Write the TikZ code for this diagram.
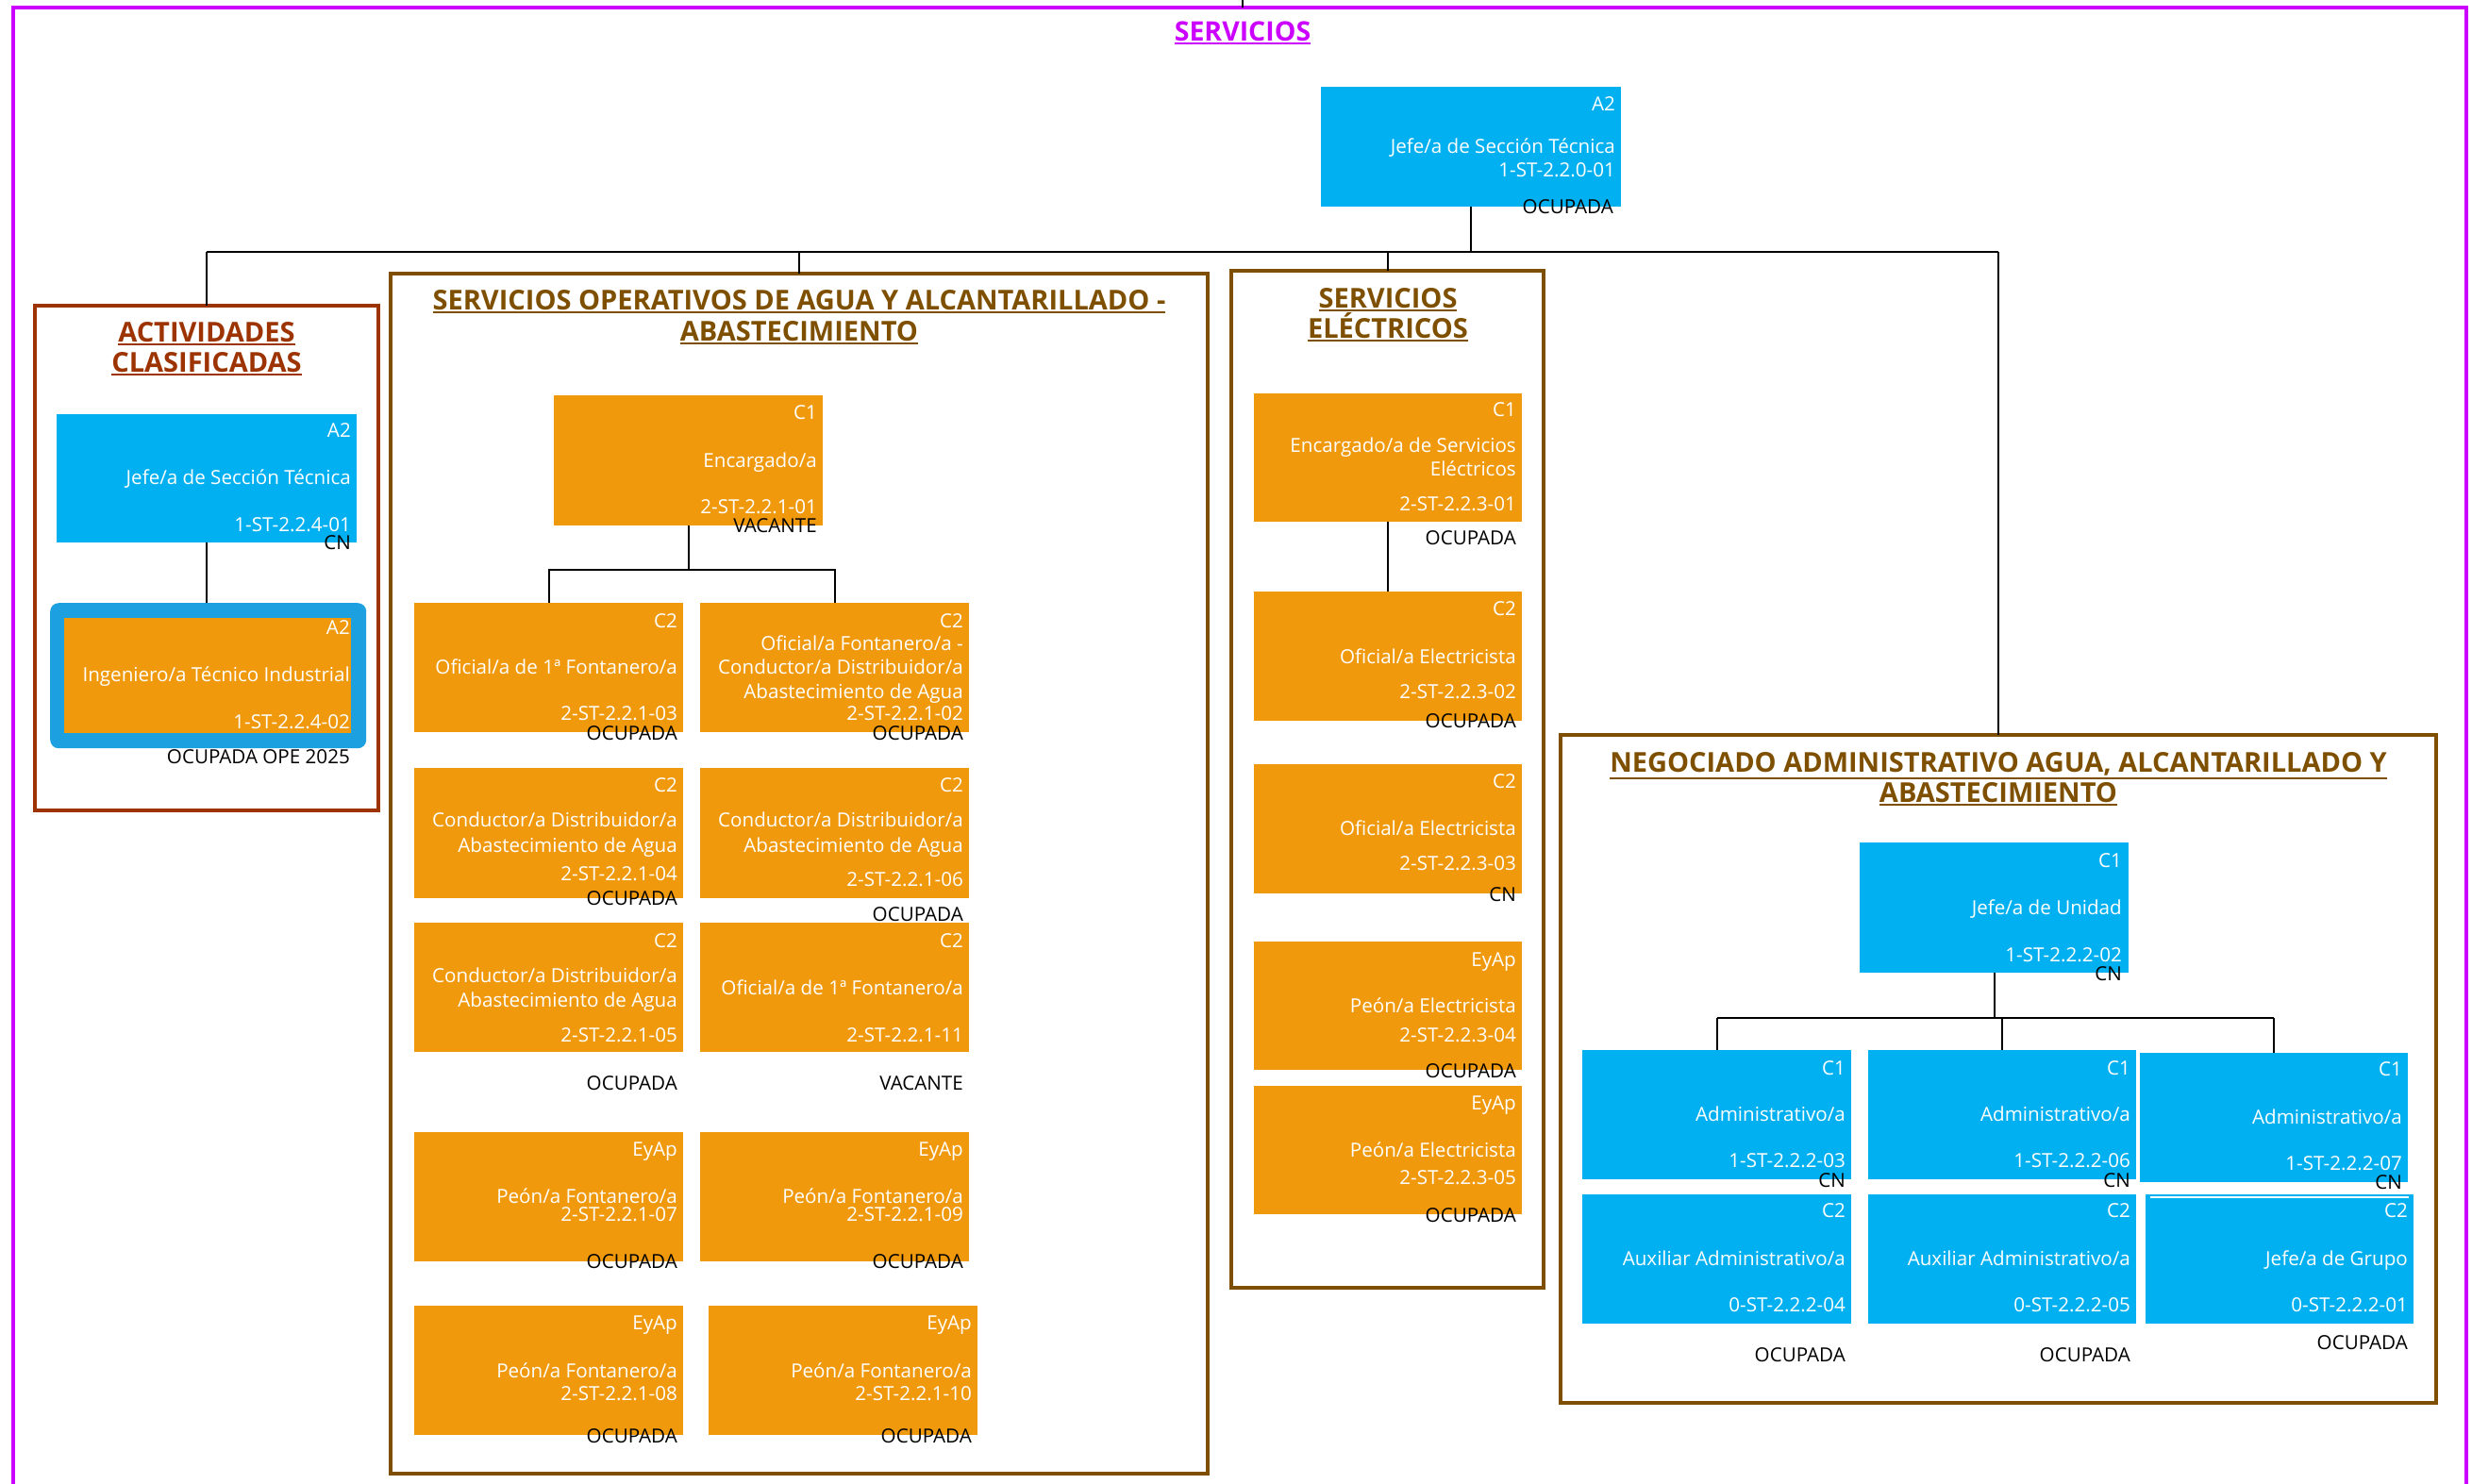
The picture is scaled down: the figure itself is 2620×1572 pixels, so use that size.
\documentclass[tikz,border=0pt]{standalone}
\usepackage{fontspec}
\setmainfont{Open Sans}
\definecolor{cblue}{HTML}{00B0F0}
\definecolor{cblue2}{HTML}{1CA0E0}
\definecolor{corange}{HTML}{F0990D}
\definecolor{cbrown}{HTML}{7F4F00}
\definecolor{cred}{HTML}{9C3300}
\definecolor{cpurple}{HTML}{CC00FF}
\newcommand\myul[1]{\vtop{\hbox{#1}\kern2pt\hrule height 2.2pt}}
\newcommand\bx[6]{\node[#6, minimum width={#4-#2}, minimum height={#5-#3}, anchor=north west, inner sep=0pt, outer sep=0pt] (#1) at (#2,#3) {};}
\newcommand\tx[5]{\node[#1] (#2) at (#3,#4+7) {#5};}
\tikzset{
  conn/.style={draw=black, line width=2pt},
  grp/.style={draw=#1, line width=4pt, rectangle},
  blu/.style={fill=cblue, draw=none, rectangle},
  org/.style={fill=corange, draw=none, rectangle},
  wt/.style={text=white, font=\fontsize{20.6}{24}\selectfont, anchor=base east, inner sep=0pt},
  bk/.style={text=black, font=\fontsize{20.6}{24}\selectfont, anchor=base east, inner sep=0pt},
  ttl/.style={text=#1, font=\fontsize{29}{32}\selectfont\bfseries, anchor=base, inner sep=0pt},
}
\begin{document}
\begin{tikzpicture}[x=1pt,y=-1pt]
\useasboundingbox (0,0) rectangle (2620,1572);
% outer frame
\draw[cpurple, line width=4pt] (14,1580) -- (14,8) -- (2614,8) -- (2614,1580);
\coordinate (topin) at (1317,0);
\coordinate (topfr) at (1317,8);
\draw[conn] (topin) -- (topfr);
\node[ttl=cpurple, font=\fontsize{28.5}{32}\selectfont\bfseries] (servt) at (1317,33+10) {\myul{SERVICIOS}};

% top box
\bx{top}{1400}{92}{1718}{219}{blu}
\tx{wt}{topg}{1712}{110}{A2}
\tx{wt}{topt}{1712}{155}{Jefe/a de Sección Técnica}
\tx{wt}{topc}{1712}{180}{1-ST-2.2.0-01}
\tx{bk}{tops}{1710}{219}{OCUPADA}

% groups
\bx{g1}{37}{324}{401}{859}{grp=cred}
\bx{g2}{414}{290}{1280}{1562}{grp=cbrown}
\bx{g3}{1305}{287}{1636}{1365}{grp=cbrown}
\bx{g4}{1654}{779}{2582}{1487}{grp=cbrown}

\coordinate (bus) at (0,267);
\draw[conn] (top.south) -- (top.south |- bus);
\draw[conn] (g1.north |- bus) -- (g4.north |- bus);
\foreach \g in {g1,g2,g3,g4} \draw[conn] (\g.north |- bus) -- (\g.north);

% group titles
\node[ttl=cred] (g1ta) at (219,352+10) {\myul{ACTIVIDADES}};
\node[ttl=cred] (g1tb) at (219,384+10) {\myul{CLASIFICADAS}};
\node[ttl=cbrown] (g2ta) at (847,318+10) {\myul{SERVICIOS OPERATIVOS DE AGUA Y ALCANTARILLADO -}};
\node[ttl=cbrown] (g2tb) at (847,351+10) {\myul{ABASTECIMIENTO}};
\node[ttl=cbrown] (g3ta) at (1471,316+10) {\myul{SERVICIOS}};
\node[ttl=cbrown] (g3tb) at (1471,348+10) {\myul{ELÉCTRICOS}};
\node[ttl=cbrown] (g4ta) at (2118,808+10) {\myul{NEGOCIADO ADMINISTRATIVO AGUA, ALCANTARILLADO Y}};
\node[ttl=cbrown] (g4tb) at (2118,840+10) {\myul{ABASTECIMIENTO}};

% ---- ACTIVIDADES CLASIFICADAS
\bx{a1}{60}{439}{378}{575}{blu}
\tx{wt}{a1g}{372}{456}{A2}
\tx{wt}{a1t}{372}{506}{Jefe/a de Sección Técnica}
\tx{wt}{a1c}{372}{556}{1-ST-2.2.4-01}
\tx{bk}{a1s}{372}{575}{CN}
\node[fill=cblue2, rounded corners=9pt, minimum width=335, minimum height=154, anchor=north west, inner sep=0pt] (a2o) at (53,639) {};
\bx{a2}{68}{655}{372}{777}{org}
\tx{wt}{a2g}{371}{665}{A2}
\tx{wt}{a2t}{371}{715}{Ingeniero/a Técnico Industrial}
\tx{wt}{a2c}{371}{765}{1-ST-2.2.4-02}
\tx{bk}{a2s}{371}{802}{OCUPADA OPE 2025}
\draw[conn] (a1.south) -- (a1.south |- a2o.north);

% ---- SERVICIOS OPERATIVOS
\bx{e1}{587}{419}{872}{557}{org}
\tx{wt}{e1g}{866}{437}{C1}
\tx{wt}{e1t}{866}{488}{Encargado/a}
\tx{wt}{e1c}{866}{537}{2-ST-2.2.1-01}
\tx{bk}{e1s}{866}{557}{VACANTE}

\bx{o03}{439}{639}{724}{776}{org}
\tx{wt}{o03g}{718}{658}{C2}
\tx{wt}{o03t}{718}{707}{Oficial/a de 1ª Fontanero/a}
\tx{wt}{o03c}{718}{756}{2-ST-2.2.1-03}
\tx{bk}{o03s}{718}{777}{OCUPADA}

\bx{o02}{742}{639}{1027}{776}{org}
\tx{wt}{o02g}{1021}{658}{C2}
\tx{wt}{o02t}{1021}{682}{Oficial/a Fontanero/a -}
\tx{wt}{o02u}{1021}{707}{Conductor/a Distribuidor/a}
\tx{wt}{o02v}{1021}{733}{Abastecimiento de Agua}
\tx{wt}{o02c}{1021}{756}{2-ST-2.2.1-02}
\tx{bk}{o02s}{1021}{777}{OCUPADA}

\coordinate (bus2) at (0,604);
\draw[conn] (e1.south) -- (e1.south |- bus2);
\draw[conn] (o03.north) -- (o03.north |- bus2) -- (o02.north |- bus2) -- (o02.north);

\bx{o04}{439}{814}{724}{952}{org}
\tx{wt}{o04g}{718}{832}{C2}
\tx{wt}{o04t}{718}{869}{Conductor/a Distribuidor/a}
\tx{wt}{o04u}{718}{896}{Abastecimiento de Agua}
\tx{wt}{o04c}{718}{926}{2-ST-2.2.1-04}
\tx{bk}{o04s}{718}{952}{OCUPADA}

\bx{o06}{742}{814}{1027}{952}{org}
\tx{wt}{o06g}{1021}{832}{C2}
\tx{wt}{o06t}{1021}{869}{Conductor/a Distribuidor/a}
\tx{wt}{o06u}{1021}{896}{Abastecimiento de Agua}
\tx{wt}{o06c}{1021}{932}{2-ST-2.2.1-06}
\tx{bk}{o06s}{1021}{969}{OCUPADA}

\bx{o05}{439}{978}{724}{1115}{org}
\tx{wt}{o05g}{718}{997}{C2}
\tx{wt}{o05t}{718}{1034}{Conductor/a Distribuidor/a}
\tx{wt}{o05u}{718}{1060}{Abastecimiento de Agua}
\tx{wt}{o05c}{718}{1097}{2-ST-2.2.1-05}
\tx{bk}{o05s}{718}{1148}{OCUPADA}

\bx{o11}{742}{978}{1027}{1115}{org}
\tx{wt}{o11g}{1021}{997}{C2}
\tx{wt}{o11t}{1021}{1047}{Oficial/a de 1ª Fontanero/a}
\tx{wt}{o11c}{1021}{1097}{2-ST-2.2.1-11}
\tx{bk}{o11s}{1021}{1148}{VACANTE}

\bx{o07}{439}{1200}{724}{1337}{org}
\tx{wt}{o07g}{718}{1218}{EyAp}
\tx{wt}{o07t}{718}{1268}{Peón/a Fontanero/a}
\tx{wt}{o07c}{718}{1287}{2-ST-2.2.1-07}
\tx{bk}{o07s}{718}{1337}{OCUPADA}

\bx{o09}{742}{1200}{1027}{1337}{org}
\tx{wt}{o09g}{1021}{1218}{EyAp}
\tx{wt}{o09t}{1021}{1268}{Peón/a Fontanero/a}
\tx{wt}{o09c}{1021}{1287}{2-ST-2.2.1-09}
\tx{bk}{o09s}{1021}{1337}{OCUPADA}

\bx{o08}{439}{1384}{724}{1521}{org}
\tx{wt}{o08g}{718}{1402}{EyAp}
\tx{wt}{o08t}{718}{1453}{Peón/a Fontanero/a}
\tx{wt}{o08c}{718}{1477}{2-ST-2.2.1-08}
\tx{bk}{o08s}{718}{1522}{OCUPADA}

\bx{o10}{751}{1384}{1036}{1521}{org}
\tx{wt}{o10g}{1030}{1402}{EyAp}
\tx{wt}{o10t}{1030}{1453}{Peón/a Fontanero/a}
\tx{wt}{o10c}{1030}{1477}{2-ST-2.2.1-10}
\tx{bk}{o10s}{1030}{1522}{OCUPADA}

% ---- SERVICIOS ELECTRICOS
\bx{s01}{1329}{417}{1613}{553}{org}
\tx{wt}{s01g}{1607}{434}{C1}
\tx{wt}{s01t}{1607}{472}{Encargado/a de Servicios}
\tx{wt}{s01u}{1607}{497}{Eléctricos}
\tx{wt}{s01c}{1607}{534}{2-ST-2.2.3-01}
\tx{bk}{s01s}{1607}{570}{OCUPADA}

\bx{s02}{1329}{627}{1613}{764}{org}
\tx{wt}{s02g}{1607}{645}{C2}
\tx{wt}{s02t}{1607}{696}{Oficial/a Electricista}
\tx{wt}{s02c}{1607}{733}{2-ST-2.2.3-02}
\tx{bk}{s02s}{1607}{764}{OCUPADA}
\draw[conn] (s01.south) -- (s02.north);

\bx{s03}{1329}{810}{1613}{947}{org}
\tx{wt}{s03g}{1607}{828}{C2}
\tx{wt}{s03t}{1607}{878}{Oficial/a Electricista}
\tx{wt}{s03c}{1607}{915}{2-ST-2.2.3-03}
\tx{bk}{s03s}{1607}{948}{CN}

\bx{s04}{1329}{998}{1613}{1134}{org}
\tx{wt}{s04g}{1607}{1017}{EyAp}
\tx{wt}{s04t}{1607}{1066}{Peón/a Electricista}
\tx{wt}{s04c}{1607}{1097}{2-ST-2.2.3-04}
\tx{bk}{s04s}{1607}{1135}{OCUPADA}

\bx{s05}{1329}{1151}{1613}{1287}{org}
\tx{wt}{s05g}{1607}{1169}{EyAp}
\tx{wt}{s05t}{1607}{1219}{Peón/a Electricista}
\tx{wt}{s05c}{1607}{1248}{2-ST-2.2.3-05}
\tx{bk}{s05s}{1607}{1288}{OCUPADA}

% ---- NEGOCIADO
\bx{n02}{1971}{893}{2256}{1031}{blu}
\tx{wt}{n02g}{2249}{912}{C1}
\tx{wt}{n02t}{2249}{962}{Jefe/a de Unidad}
\tx{wt}{n02c}{2249}{1012}{1-ST-2.2.2-02}
\tx{bk}{n02s}{2249}{1032}{CN}

\bx{n03}{1677}{1113}{1962}{1250}{blu}
\tx{wt}{n03g}{1956}{1132}{C1}
\tx{wt}{n03t}{1956}{1181}{Administrativo/a}
\tx{wt}{n03c}{1956}{1230}{1-ST-2.2.2-03}
\tx{bk}{n03s}{1956}{1251}{CN}

\bx{n06}{1980}{1113}{2264}{1250}{blu}
\tx{wt}{n06g}{2258}{1132}{C1}
\tx{wt}{n06t}{2258}{1181}{Administrativo/a}
\tx{wt}{n06c}{2258}{1230}{1-ST-2.2.2-06}
\tx{bk}{n06s}{2258}{1251}{CN}

\bx{n07}{2268}{1116}{2552}{1253}{blu}
\tx{wt}{n07g}{2546}{1133}{C1}
\tx{wt}{n07t}{2546}{1184}{Administrativo/a}
\tx{wt}{n07c}{2546}{1233}{1-ST-2.2.2-07}
\tx{bk}{n07s}{2546}{1253}{CN}

\coordinate (bus3) at (0,1079);
\draw[conn] (n02.south) -- (n02.south |- bus3);
\draw[conn] (n03.north |- bus3) -- (n07.north |- bus3);
\foreach \n in {n03,n06,n07} \draw[conn] (\n.north |- bus3) -- (\n.north);

\bx{n04}{1677}{1266}{1962}{1403}{blu}
\tx{wt}{n04g}{1956}{1283}{C2}
\tx{wt}{n04t}{1956}{1334}{Auxiliar Administrativo/a}
\tx{wt}{n04c}{1956}{1383}{0-ST-2.2.2-04}
\tx{bk}{n04s}{1956}{1436}{OCUPADA}

\bx{n05}{1980}{1266}{2264}{1403}{blu}
\tx{wt}{n05g}{2258}{1283}{C2}
\tx{wt}{n05t}{2258}{1334}{Auxiliar Administrativo/a}
\tx{wt}{n05c}{2258}{1383}{0-ST-2.2.2-05}
\tx{bk}{n05s}{2258}{1436}{OCUPADA}

\bx{n01}{2274}{1266}{2558}{1403}{blu}
\draw[white, line width=1.5pt] ([xshift=5pt,yshift=-3pt]n01.north west) -- ([xshift=-5pt,yshift=-3pt]n01.north east);
\tx{wt}{n01g}{2552}{1283}{C2}
\tx{wt}{n01t}{2552}{1334}{Jefe/a de Grupo}
\tx{wt}{n01c}{2552}{1383}{0-ST-2.2.2-01}
\tx{bk}{n01s}{2552}{1423}{OCUPADA}
\end{tikzpicture}
\end{document}
